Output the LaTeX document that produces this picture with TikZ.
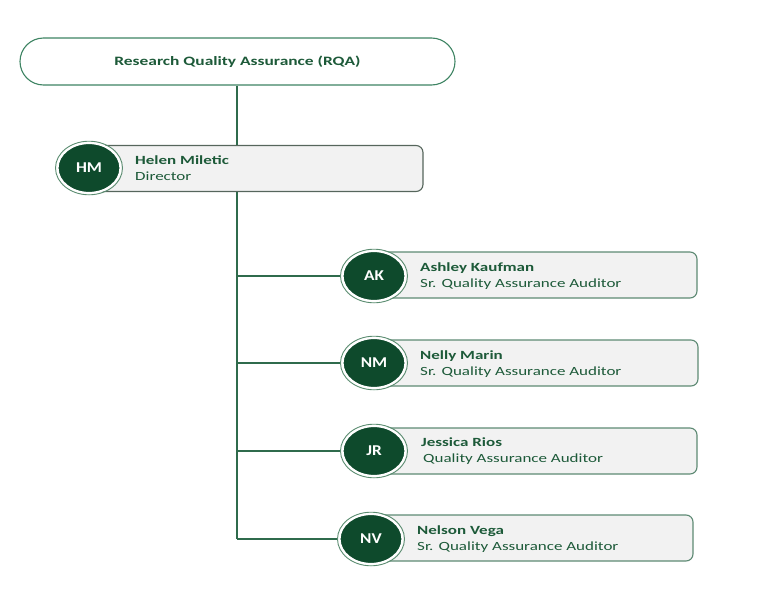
\documentclass[tikz,border=0pt]{standalone}
\usepackage{fontspec}
\setmainfont{Carlito}
\newfontfamily\widefont[FakeStretch=1.36]{Carlito}
\newfontfamily\initfont[FakeStretch=1.15]{Carlito}
\usetikzlibrary{shapes.geometric}
\definecolor{dkgreen}{HTML}{0E4A2C}
\definecolor{ringgreen}{HTML}{5A8C70}
\definecolor{linegreen}{HTML}{2F6B4C}
\definecolor{txtgreen}{HTML}{1D5A39}
\definecolor{boxfill}{HTML}{F2F2F2}
\definecolor{boxline}{HTML}{5E8A74}
\definecolor{hmline}{HTML}{56665C}
\definecolor{pillline}{HTML}{3E8463}
\tikzset{
  conn/.style={draw=linegreen, line width=1.1pt},
  pill/.style={draw=pillline, line width=1.1pt, fill=white, rounded corners=23.5pt,
    minimum width=435pt, minimum height=47pt, inner sep=0pt,
    font=\widefont\fontsize{12.8}{15}\selectfont\bfseries, text=txtgreen},
  card/.style={draw=boxline, line width=1.1pt, fill=boxfill, rounded corners=7pt,
    minimum height=46pt, inner sep=0pt},
  avatar/.style={ellipse, fill=dkgreen, draw=white, line width=2.2pt,
    minimum width=63pt, minimum height=50pt, inner sep=0pt,
    font=\initfont\fontsize{15}{17}\selectfont\bfseries, text=white},
  ringline/.style={draw=ringgreen, line width=0.9pt},
  namet/.style={anchor=base west, inner sep=0pt, font=\widefont\fontsize{12.5}{14}\selectfont\bfseries, text=txtgreen},
  rolet/.style={anchor=base west, inner sep=0pt, font=\widefont\fontsize{12.5}{14}\selectfont, text=txtgreen},
}
\begin{document}
\begin{tikzpicture}[x=1pt, y=-1pt]
\useasboundingbox (0,0) rectangle (773,589);
% header
\node[pill] (rqa) at (237.5,61.5) {Research Quality Assurance (RQA)};
% director card
\node[card, draw=hmline, minimum width=334pt] (hmbox) at (256,168.5) {};
% auditors cards
\node[card, minimum width=323pt] (akbox) at (535.5,275) {};
\node[card, minimum width=324pt] (nmbox) at (536,363) {};
\node[card, minimum width=323pt] (jrbox) at (535.5,451) {};
\node[card, minimum width=322pt] (nvbox) at (532,538) {};
% connectors
\coordinate (trunk) at (237,539);
\draw[conn] (rqa.south -| trunk) -- (hmbox.north -| trunk);
\draw[conn] (hmbox.south -| trunk) -- (trunk);
% avatars
\node[avatar] (hm) at (89,168) {HM};
\node[avatar] (ak) at (374,276) {AK};
\node[avatar] (nm) at (374,363) {NM};
\node[avatar] (jr) at (374,451) {JR};
\node[avatar] (nv) at (371,539) {NV};
\draw[conn] (trunk |- ak.west) -- ([xshift=-1.5pt]ak.west);
\draw[conn] (trunk |- nm.west) -- ([xshift=-1.5pt]nm.west);
\draw[conn] (trunk |- jr.west) -- ([xshift=-1.5pt]jr.west);
\draw[conn] (trunk) -- ([xshift=-1.5pt]nv.west);
\foreach \a in {hm,ak,nm,jr,nv}{
  \draw[ringline] (\a.center) ellipse (33.5pt and 26.8pt);
}
% texts
\node[namet] (hmn) at (135,164) {Helen Miletic};
\node[rolet] (hmr) at (135,180) {Director};
\node[namet] (akn) at (420,271) {Ashley Kaufman};
\node[rolet] (akr) at (420,287) {Sr. Quality Assurance Auditor};
\node[namet] (nmn) at (420,359) {Nelly Marin};
\node[rolet] (nmr) at (420,375) {Sr. Quality Assurance Auditor};
\node[namet] (jrn) at (421,446) {Jessica Rios};
\node[rolet] (jrr) at (423,462) {Quality Assurance Auditor};
\node[namet] (nvn) at (417,534) {Nelson Vega};
\node[rolet] (nvr) at (417,550) {Sr. Quality Assurance Auditor};
\end{tikzpicture}
\end{document}
